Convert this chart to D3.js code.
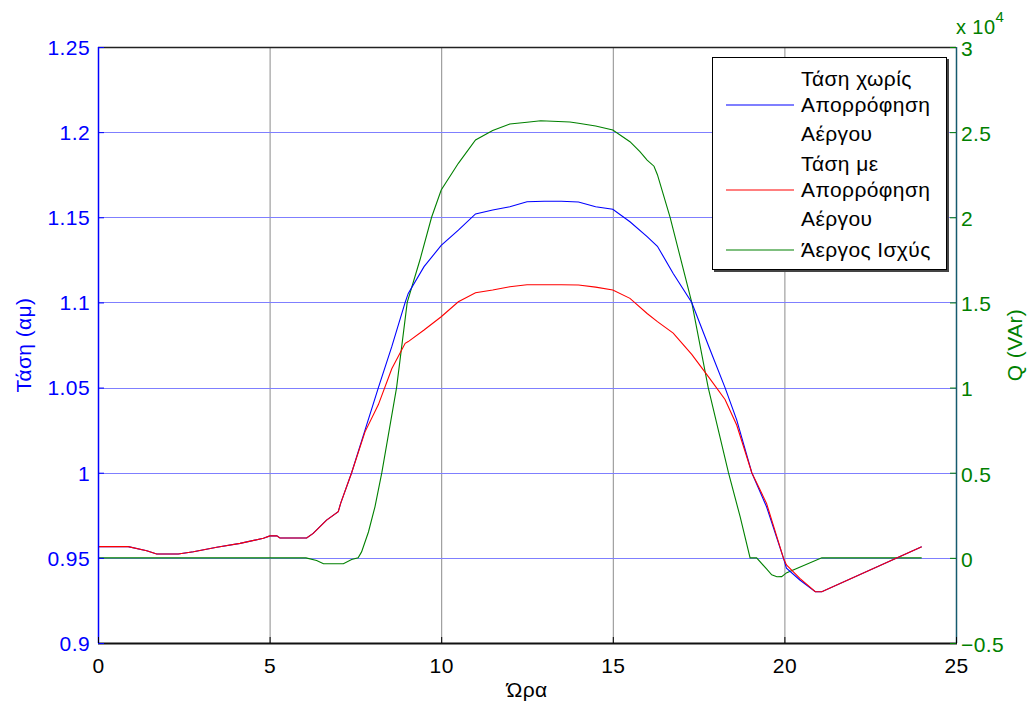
<!DOCTYPE html>
<html><head><meta charset="utf-8">
<script src="https://cdn.jsdelivr.net/npm/d3@7"></script>
<style>body{margin:0;background:#fff}svg{display:block}text{font-family:"Liberation Sans",Arial,sans-serif;letter-spacing:0.4px}</style>
</head><body><svg id="c" width="1031" height="706"></svg>
<script>
// ---- data ----
const vHours   = [0,0.88,1.42,1.71,2.34,2.78,3.46,4.14,4.82,5.01,5.21,5.30,6.08,6.27,6.66,7.0,7.07,7.39,7.78,8.17,8.56,8.95,9.04,9.5,10,10.5,11,11.5,12,12.5,13,13.5,14,14.5,15,15.5,16,16.3,16.76,17.3,17.8,18.27,18.61,19.05,19.48,19.97,20.06,20.45,20.9,21.09,24];
const vNoAbs   = [0.9566,0.9566,0.9542,0.9523,0.9523,0.9536,0.9562,0.9585,0.9615,0.9629,0.9629,0.9617,0.9617,0.9644,0.9722,0.9771,0.982,1.0,1.025,1.05,1.074,1.1,1.1053,1.121,1.1335,1.1425,1.152,1.1543,1.1562,1.1591,1.1594,1.1594,1.159,1.1562,1.1547,1.1474,1.1386,1.133,1.117,1.1,1.074,1.05,1.031,1.0,0.980,0.95,0.9439,0.937,0.9301,0.9301,0.9565];
const vAbs     = [0.9566,0.9566,0.9542,0.9523,0.9523,0.9536,0.9562,0.9585,0.9615,0.9629,0.9629,0.9617,0.9617,0.9644,0.9722,0.9771,0.982,1.0,1.024,1.04,1.061,1.076,1.077,1.0838,1.0916,1.1004,1.1057,1.1073,1.1092,1.1104,1.1104,1.1104,1.1102,1.109,1.1073,1.1024,1.0935,1.0887,1.082,1.0695,1.056,1.043,1.028,1.0,0.982,0.95,0.9458,0.938,0.9301,0.9301,0.9565];
const qHours   = [0,6.06,6.37,6.57,7.15,7.39,7.58,7.68,7.88,8.07,8.27,8.70,9.01,9.38,9.72,10,10.5,11,11.5,12,12.5,12.9,13.75,14,14.5,15,15.5,15.79,16,16.2,16.3,16.67,17.3,17.78,18.37,18.71,19.0,19.19,19.48,19.63,19.78,19.92,20.07,21.09,24];
const qValues  = [0,0,-0.016,-0.035,-0.035,-0.01,0,0.035,0.152,0.30,0.5,1.0,1.5,1.749,2.0,2.16,2.317,2.454,2.509,2.548,2.558,2.567,2.56,2.552,2.536,2.513,2.444,2.385,2.336,2.3,2.25,2.0,1.5,1.0,0.5,0.242,0,0,-0.065,-0.1,-0.111,-0.11,-0.087,0,0]; // x 10^4 VAr
const xTicks   = [0,5,10,15,20,25];
const yTicks   = [0.9,0.95,1,1.05,1.1,1.15,1.2,1.25];
const y2Ticks  = [-0.5,0,0.5,1,1.5,2,2.5,3];
const legendLabels = [["Τάση χωρίς","Απορρόφηση","Αέργου"],["Τάση με","Απορρόφηση","Αέργου"],["Άεργος Ισχύς"]];

// ---- layout ----
const L=98, R=956, T=47, B=643;
const BLUE="#0000ff", RED="#ff0000", GREEN="#008000";
const svg=d3.select("#c");
const x=d3.scaleLinear().domain([0,25]).range([L,R]);
const y=d3.scaleLinear().domain([0.9,1.25]).range([B,T]);
const y2=d3.scaleLinear().domain([-0.5,3]).range([B,T]);

// grid
svg.append("g").selectAll("line").data(xTicks.filter(d=>d>0&&d<25)).join("line")
  .attr("x1",d=>x(d)+0.5).attr("x2",d=>x(d)+0.5).attr("y1",T).attr("y2",B)
  .attr("stroke","#8c8c8c").attr("stroke-width",1);
svg.append("g").selectAll("line").data(yTicks.filter(d=>d>0.9&&d<1.25)).join("line")
  .attr("x1",L).attr("x2",R).attr("y1",d=>Math.round(y(d))+0.5).attr("y2",d=>Math.round(y(d))+0.5)
  .attr("stroke","#7f7fff").attr("stroke-width",1);

// series
const line=(xs,ys,sc)=>d3.line().x((d,i)=>x(xs[i])).y(d=>sc(d))(ys);
svg.append("path").attr("d",line(qHours,qValues,y2)).attr("fill","none").attr("stroke",GREEN).attr("stroke-width",1.1);
svg.append("path").attr("d",line(vHours,vNoAbs,y)).attr("fill","none").attr("stroke",BLUE).attr("stroke-width",1.1);
svg.append("path").attr("d",line(vHours,vAbs,y)).attr("fill","none").attr("stroke",RED).attr("stroke-width",1.1);

// frame
svg.append("line").attr("x1",L).attr("x2",R).attr("y1",T+0.5).attr("y2",T+0.5).attr("stroke","#222").attr("stroke-width",1.5);
svg.append("line").attr("x1",L).attr("x2",R+1).attr("y1",B+0.5).attr("y2",B+0.5).attr("stroke","#111").attr("stroke-width",2);
svg.append("line").attr("x1",L+0.5).attr("x2",L+0.5).attr("y1",T).attr("y2",B).attr("stroke",BLUE).attr("stroke-width",1.5);
svg.append("line").attr("x1",R+0.5).attr("x2",R+0.5).attr("y1",T).attr("y2",B).attr("stroke","#155a6e").attr("stroke-width",1.5);

// axes
const fs=21;
const ax=svg.append("g").attr("transform",`translate(0,${B})`).call(d3.axisBottom(x).tickValues(xTicks).tickSize(-6).tickPadding(0).tickFormat(d3.format("d")));
ax.select(".domain").remove();
ax.selectAll("line").attr("stroke","#000");
ax.selectAll("text").attr("font-size",fs).attr("fill","#000").attr("dy",null).attr("y",30);
const ay=svg.append("g").attr("transform",`translate(${L},0)`).call(d3.axisLeft(y).tickValues(yTicks).tickSize(-6).tickPadding(0).tickFormat(d=>d3.format("")(d)));
ay.select(".domain").remove();
ay.selectAll("line").attr("stroke",BLUE);
ay.selectAll("text").attr("font-size",fs).attr("fill",BLUE).attr("x",-8).attr("dy","0.35em");
const ay2=svg.append("g").attr("transform",`translate(${R},0)`).call(d3.axisRight(y2).tickValues(y2Ticks).tickSize(-6).tickPadding(0).tickFormat(d=>d3.format("")(d)));
ay2.select(".domain").remove();
ay2.selectAll("line").attr("stroke",GREEN);
ay2.selectAll("text").attr("font-size",fs).attr("fill",GREEN).attr("x",5).attr("dy","0.4em");
svg.selectAll(".tick text").attr("font-family","Liberation Sans, Arial, sans-serif");

// exponent
const ex=svg.append("text").attr("x",956).attr("y",34).attr("font-size",20).attr("fill",GREEN);
ex.append("tspan").text("x 10");
ex.append("tspan").attr("font-size",15).attr("dy",-12).text("4");

// axis titles
svg.append("text").attr("transform",`translate(31,${(T+B)/2}) rotate(-90)`).attr("text-anchor","middle").attr("font-size",fs).attr("fill",BLUE).text("Τάση (αμ)");
svg.append("text").attr("transform",`translate(1022,${(T+B)/2}) rotate(-90)`).attr("text-anchor","middle").attr("font-size",fs).attr("fill",GREEN).text("Q (VAr)");
svg.append("text").attr("x",(L+R)/2).attr("y",697).attr("text-anchor","middle").attr("font-size",fs).attr("fill","#000").text("Ώρα");

// legend
const lg=svg.append("g");
lg.append("rect").attr("x",714).attr("y",59).attr("width",235).attr("height",213).attr("fill","#444");
lg.append("rect").attr("x",712.5).attr("y",57.5).attr("width",234).attr("height",212).attr("fill","#fff").attr("stroke","#000").attr("stroke-width",1);
const rows=[78.5,105,133.5,163.5,190,218.5,250];
const colors=[BLUE,RED,GREEN];
let r=0;
legendLabels.forEach((labs,i)=>{
  const mid = rows[r + Math.floor(labs.length/2)];
  lg.append("line").attr("x1",726).attr("x2",794).attr("y1",mid).attr("y2",mid).attr("stroke",colors[i]).attr("stroke-width",1.1);
  labs.forEach((t,j)=>{
    lg.append("text").attr("x",801).attr("y",rows[r+j]).attr("dy","0.35em").attr("font-size",fs).attr("fill","#000").text(t);
  });
  r+=labs.length;
});
</script></body></html>
